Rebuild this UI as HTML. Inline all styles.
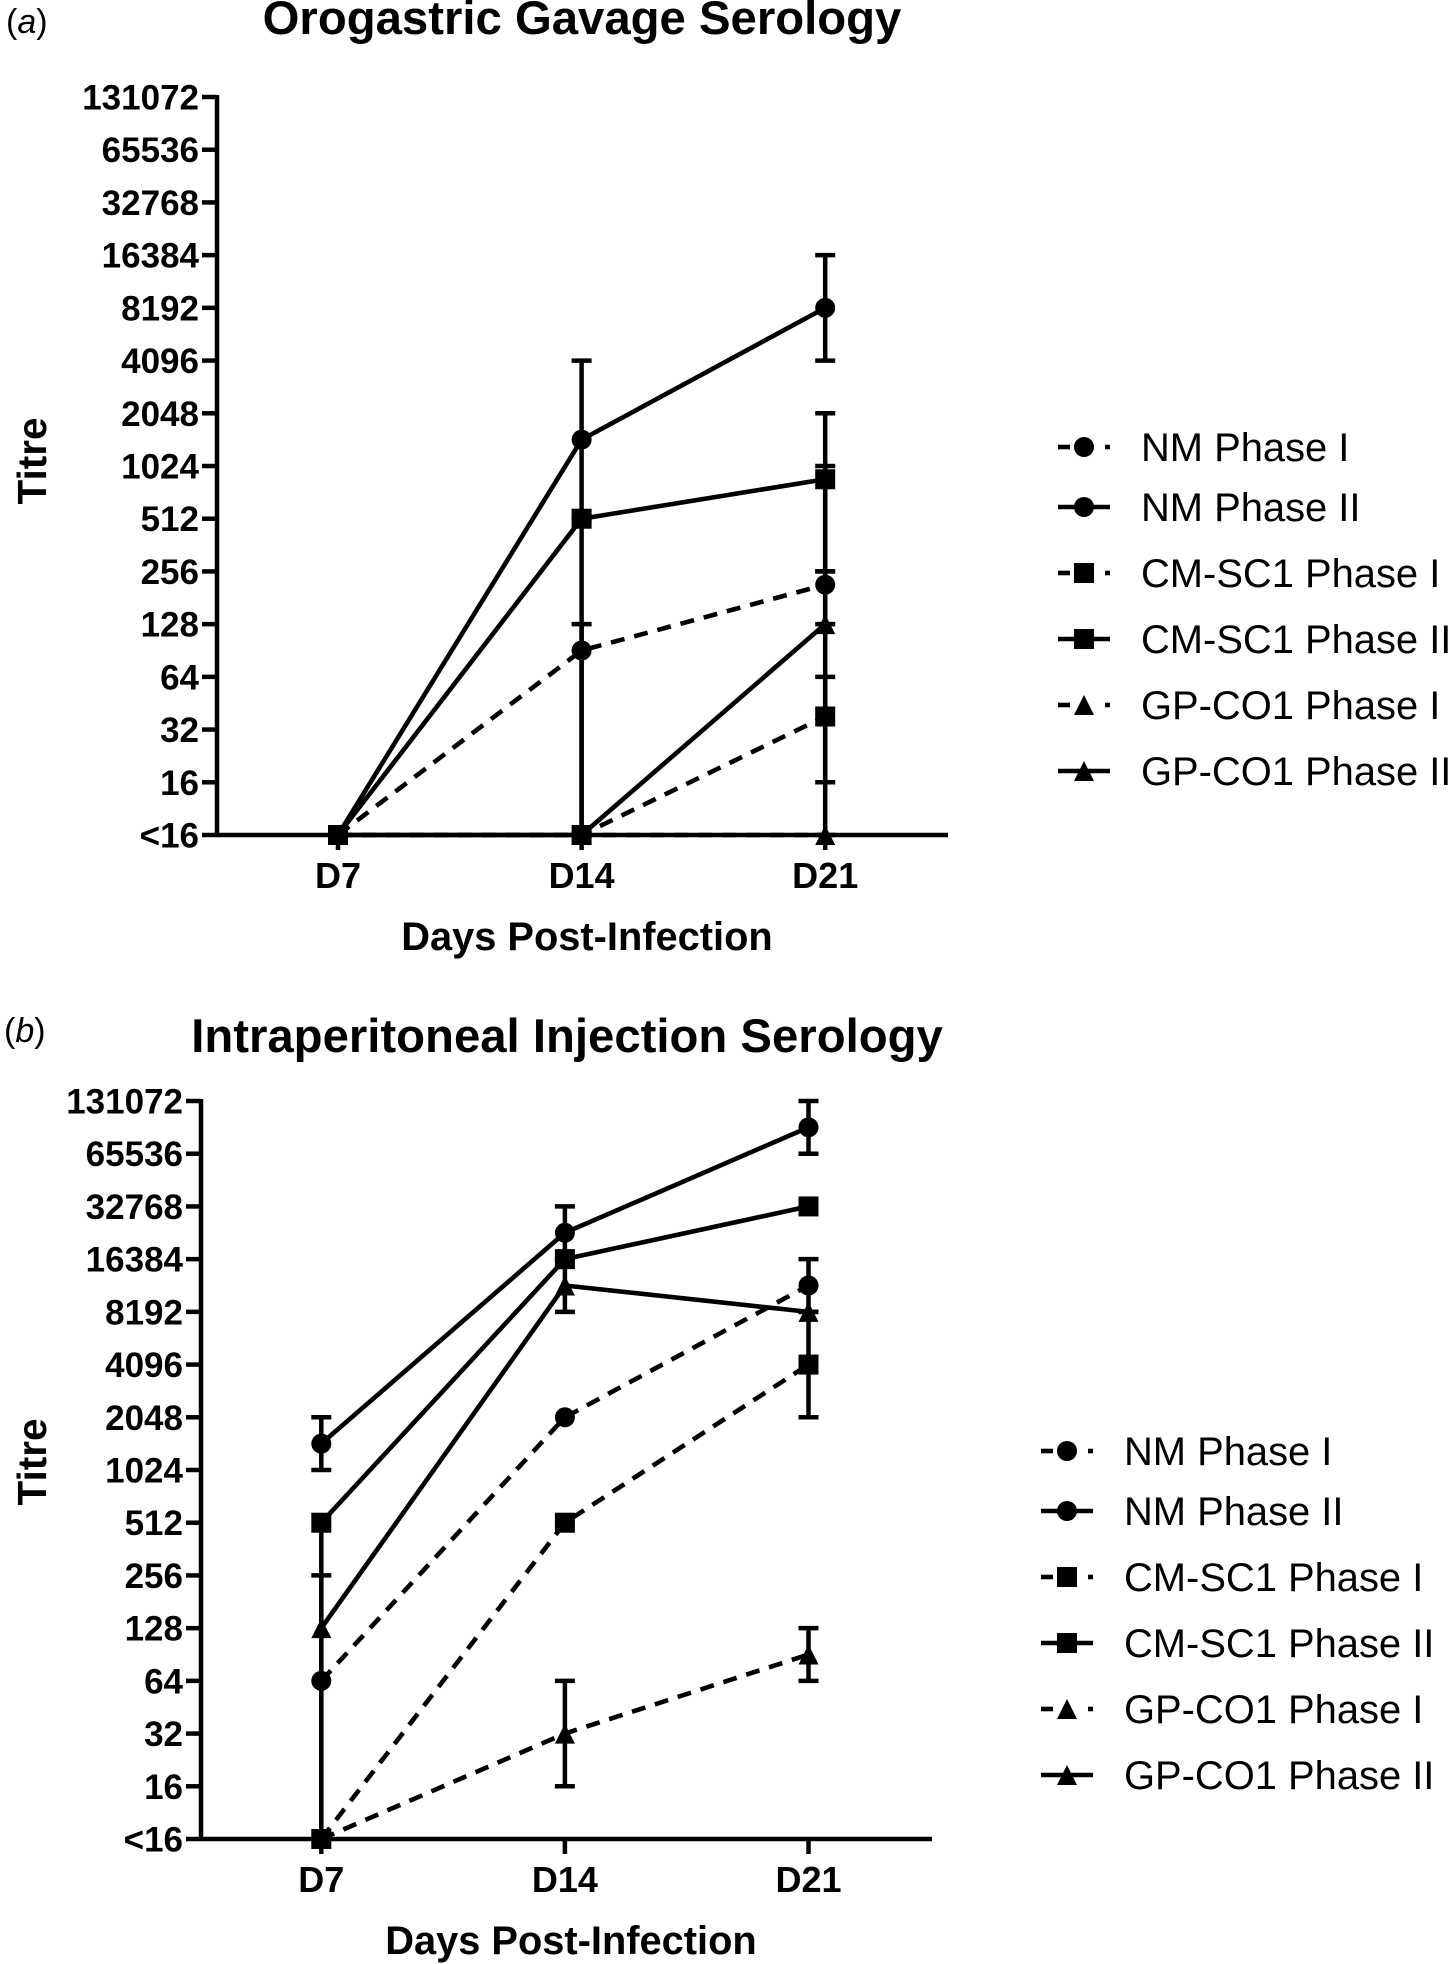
<!DOCTYPE html>
<html lang="en">
<head>
<meta charset="utf-8">
<title>Serology charts</title>
<style>
html,body{margin:0;padding:0;background:#fff;}
svg{display:block;}
text{font-family:"Liberation Sans",Arial,sans-serif;fill:#000;}
.bold{font-weight:700;}
</style>
</head>
<body>
<svg id="figure" width="1450" height="1964" viewBox="0 0 1450 1964" xmlns="http://www.w3.org/2000/svg">
  <rect x="0" y="0" width="1450" height="1964" fill="#fff"/>
  <text x="6" y="33" font-size="34">(<tspan font-style="italic">a</tspan>)</text>
  <text class="bold" x="582" y="34" font-size="47.3" text-anchor="middle">Orogastric Gavage Serology</text>
  <text class="bold" x="587" y="950" font-size="39.8" text-anchor="middle">Days Post-Infection</text>
  <text class="bold" transform="translate(46 461) rotate(-90)" font-size="40.5" text-anchor="middle">Titre</text>
  <text x="4" y="1042" font-size="34">(<tspan font-style="italic">b</tspan>)</text>
  <text class="bold" x="567" y="1052" font-size="47.3" text-anchor="middle">Intraperitoneal Injection Serology</text>
  <text class="bold" x="571" y="1954" font-size="39.8" text-anchor="middle">Days Post-Infection</text>
  <text class="bold" transform="translate(46 1462) rotate(-90)" font-size="40.5" text-anchor="middle">Titre</text>
</svg>
<script>
const categories = ['D7', 'D14', 'D21'];
const yTickValues = [8, 16, 32, 64, 128, 256, 512, 1024, 2048, 4096, 8192, 16384, 32768, 65536, 131072];
const yTickLabels = ['<16', '16', '32', '64', '128', '256', '512', '1024', '2048', '4096', '8192', '16384', '32768', '65536', '131072'];
const seriesNames = ['NM Phase I', 'NM Phase II', 'CM-SC1 Phase I', 'CM-SC1 Phase II', 'GP-CO1 Phase I', 'GP-CO1 Phase II'];
const seriesMarkers = ['circle', 'circle', 'square', 'square', 'triangle', 'triangle'];
const seriesDashed = [true, false, true, false, true, false];

/* Panel a: titres, "<16" is plotted as 8 */
const aNmPhase1 = [8, 90.5, 215];
const aNmPhase2 = [8, 1448, 8192];
const aCmPhase1 = [8, 8, 38];
const aCmPhase2 = [8, 512, 860];
const aGpPhase1 = [8, 8, 8];
const aGpPhase2 = [8, 8, 128];
const aNmPhase1Upper = [null, 128, 256];
const aNmPhase1Lower = [null, 8, 128];
const aNmPhase2Upper = [null, 4096, 16384];
const aNmPhase2Lower = [null, 512, 4096];
const aCmPhase1Upper = [null, null, 64];
const aCmPhase1Lower = [null, null, 16];
const aCmPhase2Upper = [null, 512, 2048];
const aCmPhase2Lower = [null, 8, 256];
const aGpPhase1Upper = [null, null, null];
const aGpPhase1Lower = [null, null, null];
const aGpPhase2Upper = [null, null, 1024];
const aGpPhase2Lower = [null, null, 8];

/* Panel b */
const bNmPhase1 = [64, 2048, 11585];
const bNmPhase2 = [1448, 23170, 92682];
const bCmPhase1 = [8, 512, 4096];
const bCmPhase2 = [512, 16384, 32768];
const bGpPhase1 = [8, 32, 90.5];
const bGpPhase2 = [128, 11585, 8192];
const bNmPhase1Upper = [256, null, 16384];
const bNmPhase1Lower = [8, null, 8192];
const bNmPhase2Upper = [2048, 32768, 131072];
const bNmPhase2Lower = [1024, 16384, 65536];
const bCmPhase1Upper = [null, null, 8192];
const bCmPhase1Lower = [null, null, 2048];
const bCmPhase2Upper = [null, null, null];
const bCmPhase2Lower = [8, null, null];
const bGpPhase1Upper = [null, 64, 128];
const bGpPhase1Lower = [null, 16, 64];
const bGpPhase2Upper = [null, 16384, null];
const bGpPhase2Lower = [null, 8192, null];

const SVG_NS = 'http://www.w3.org/2000/svg';
const root = document.getElementById('figure');

function mk(tag, attrs) {
  const node = document.createElementNS(SVG_NS, tag);
  for (const key in attrs) node.setAttribute(key, attrs[key]);
  root.appendChild(node);
  return node;
}

function drawMarker(kind, cx, cy, name) {
  let el;
  if (kind === 'circle') {
    el = mk('circle', {cx: cx, cy: cy, r: 10, fill: '#000'});
  } else if (kind === 'square') {
    el = mk('rect', {x: cx - 10, y: cy - 10, width: 20, height: 20, fill: '#000'});
  } else {
    el = mk('polygon', {points: (cx - 10) + ',' + (cy + 10) + ' ' + (cx + 10) + ',' + (cy + 10) + ' ' + cx + ',' + (cy - 10), fill: '#000'});
  }
  
  
}

function drawPanel(p) {
  const logMin = Math.log2(yTickValues[0]);
  const logMax = Math.log2(yTickValues[yTickValues.length - 1]);
  const xScale = function (i) { return p.x0 + i * p.dx; };
  const yScale = function (v) { return p.yBottom - (Math.log2(v) - logMin) / (logMax - logMin) * (p.yBottom - p.yTop); };

  /* axes */
  const yAxis = mk('line', {x1: p.axisX, x2: p.axisX, y1: yScale(yTickValues[yTickValues.length - 1]) - 2, y2: p.yBottom + 2, stroke: '#000', 'stroke-width': 4.5});
  
  
  const xAxis = mk('line', {x1: p.axisX, x2: p.axisEnd, y1: p.yBottom, y2: p.yBottom, stroke: '#000', 'stroke-width': 4.5});
  
  

  yTickValues.forEach(function (v, i) {
    const y = yScale(v);
    const tick = mk('line', {x1: p.axisX - 15, x2: p.axisX, y1: y, y2: y, stroke: '#000', 'stroke-width': 4.5});
    
    
    const label = mk('text', {x: p.axisX - 18, y: y + 12.5, 'font-size': 35, 'text-anchor': 'end', 'class': 'bold'});
    label.textContent = yTickLabels[i];
    
    
  });

  categories.forEach(function (c, i) {
    const x = xScale(i);
    const tick = mk('line', {x1: x, x2: x, y1: p.yBottom, y2: p.yBottom + 15, stroke: '#000', 'stroke-width': 4.5});
    
    
    const label = mk('text', {x: x, y: p.yBottom + 53, 'font-size': 36, 'text-anchor': 'middle', 'class': 'bold'});
    label.textContent = c;
    
    
  });

  /* series */
  p.series.forEach(function (values, s) {
    const slug = seriesNames[s].toLowerCase().replace(/ /g, '-');
    const pts = values.map(function (v, i) { return xScale(i) + ',' + yScale(v); }).join(' ');
    const attrs = {points: pts, fill: 'none', stroke: '#000', 'stroke-width': 4.6, 'stroke-linejoin': 'round'};
    if (seriesDashed[s]) attrs['stroke-dasharray'] = '14 10';
    const line = mk('polyline', attrs);
    
    

    values.forEach(function (v, i) {
      const up = p.upper[s][i];
      const low = p.lower[s][i];
      const x = xScale(i);
      if (up !== null || low !== null) {
        const yUp = yScale(up !== null ? up : v);
        const yLow = yScale(low !== null ? low : v);
        const bar = mk('line', {x1: x, x2: x, y1: yUp, y2: yLow, stroke: '#000', 'stroke-width': 4.5});
        
        
        if (up !== null) {
          const capUp = mk('line', {x1: x - 10, x2: x + 10, y1: yUp, y2: yUp, stroke: '#000', 'stroke-width': 4.5});
          
          
        }
        if (low !== null) {
          const capLow = mk('line', {x1: x - 10, x2: x + 10, y1: yLow, y2: yLow, stroke: '#000', 'stroke-width': 4.5});
          
          
        }
      }
      drawMarker(seriesMarkers[s], x, yScale(v), p.id + '-point-' + slug + '-' + categories[i]);
    });
  });

  /* legend */
  seriesNames.forEach(function (name, s) {
    const slug = name.toLowerCase().replace(/ /g, '-');
    const y = p.legendY[s];
    const x0 = p.legendX;
    if (seriesDashed[s]) {
      const dashA = mk('line', {x1: x0, x2: x0 + 12, y1: y, y2: y, stroke: '#000', 'stroke-width': 4.6});
      
      
      const dashB = mk('line', {x1: x0 + 47, x2: x0 + 52, y1: y, y2: y, stroke: '#000', 'stroke-width': 4.6});
      
      
    } else {
      const solid = mk('line', {x1: x0, x2: x0 + 52, y1: y, y2: y, stroke: '#000', 'stroke-width': 4.6});
      
      
    }
    drawMarker(seriesMarkers[s], x0 + 26, y, p.id + '-legend-marker-' + slug);
    const label = mk('text', {x: x0 + 83, y: y + 14, 'font-size': 39.9});
    label.textContent = name;
    
    
  });
}

drawPanel({
  id: 'panel-a', axisX: 217, axisEnd: 948, x0: 338, dx: 243.6, yTop: 97, yBottom: 835,
  legendX: 1058, legendY: [447, 507, 573, 639, 705, 771],
  series: [aNmPhase1, aNmPhase2, aCmPhase1, aCmPhase2, aGpPhase1, aGpPhase2],
  upper: [aNmPhase1Upper, aNmPhase2Upper, aCmPhase1Upper, aCmPhase2Upper, aGpPhase1Upper, aGpPhase2Upper],
  lower: [aNmPhase1Lower, aNmPhase2Lower, aCmPhase1Lower, aCmPhase2Lower, aGpPhase1Lower, aGpPhase2Lower]
});
drawPanel({
  id: 'panel-b', axisX: 201, axisEnd: 932, x0: 321.3, dx: 243.6, yTop: 1101, yBottom: 1839,
  legendX: 1041, legendY: [1451, 1511, 1577, 1643, 1709, 1775],
  series: [bNmPhase1, bNmPhase2, bCmPhase1, bCmPhase2, bGpPhase1, bGpPhase2],
  upper: [bNmPhase1Upper, bNmPhase2Upper, bCmPhase1Upper, bCmPhase2Upper, bGpPhase1Upper, bGpPhase2Upper],
  lower: [bNmPhase1Lower, bNmPhase2Lower, bCmPhase1Lower, bCmPhase2Lower, bGpPhase1Lower, bGpPhase2Lower]
});
</script>
</body>
</html>
